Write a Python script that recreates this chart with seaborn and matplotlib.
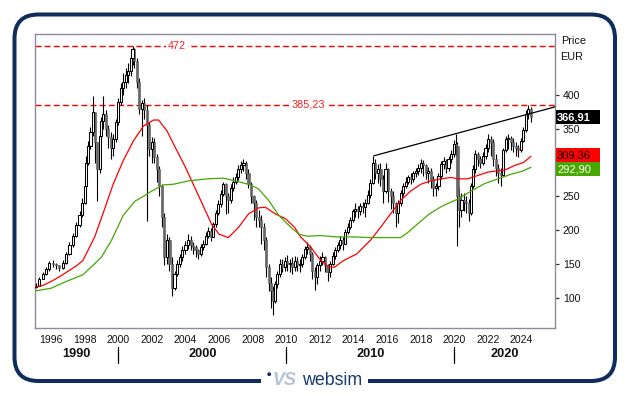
import numpy as np
import pandas as pd
import matplotlib
matplotlib.use("Agg")
import matplotlib.pyplot as plt
import seaborn as sns
from matplotlib.patches import FancyBboxPatch, Rectangle, Circle

# ---------------- data ----------------
t = [1995.10, 1995.30, 1995.50, 1995.70, 1995.90, 1996.10, 1996.30, 1996.50, 1996.70, 1996.90,
     1997.10, 1997.30, 1997.50, 1997.70, 1997.85, 1998.00, 1998.10, 1998.20, 1998.35, 1998.50,
     1998.60, 1998.75, 1998.90, 1999.00, 1999.10, 1999.25, 1999.40, 1999.55, 1999.70, 1999.85,
     2000.00, 2000.15, 2000.30, 2000.45, 2000.60, 2000.75, 2000.85, 2000.95, 2001.10, 2001.25,
     2001.40, 2001.55, 2001.70, 2001.85, 2002.00, 2002.15, 2002.30, 2002.45, 2002.60, 2002.75,
     2002.90, 2003.05, 2003.20, 2003.35, 2003.50, 2003.65, 2003.80, 2004.00, 2004.15, 2004.30,
     2004.45, 2004.60, 2004.75, 2004.90, 2005.05, 2005.20, 2005.35, 2005.50, 2005.65, 2005.80,
     2005.95, 2006.10, 2006.25, 2006.40, 2006.55, 2006.70, 2006.85, 2007.00, 2007.15, 2007.30,
     2007.45, 2007.60, 2007.75, 2007.90, 2008.05, 2008.20, 2008.35, 2008.50, 2008.65, 2008.80,
     2008.95, 2009.10, 2009.20, 2009.30, 2009.45, 2009.60, 2009.75, 2009.90, 2010.05, 2010.20,
     2010.35, 2010.50, 2010.65, 2010.80, 2010.95, 2011.10, 2011.25, 2011.40, 2011.55, 2011.70,
     2011.85, 2012.00, 2012.15, 2012.30, 2012.45, 2012.60, 2012.75, 2012.90, 2013.05, 2013.20,
     2013.35, 2013.50, 2013.65, 2013.80, 2013.95, 2014.10, 2014.25, 2014.40, 2014.55, 2014.70,
     2014.85, 2015.00, 2015.15, 2015.30, 2015.45, 2015.60, 2015.75, 2015.90, 2016.05, 2016.20,
     2016.35, 2016.50, 2016.65, 2016.80, 2016.95, 2017.10, 2017.25, 2017.40, 2017.55, 2017.70,
     2017.85, 2018.00, 2018.15, 2018.30, 2018.45, 2018.60, 2018.75, 2018.90, 2019.05, 2019.20,
     2019.35, 2019.50, 2019.65, 2019.80, 2019.95, 2020.08, 2020.18, 2020.30, 2020.42, 2020.55,
     2020.70, 2020.85, 2020.97, 2021.10, 2021.25, 2021.40, 2021.55, 2021.70, 2021.85, 2022.00,
     2022.15, 2022.30, 2022.45, 2022.60, 2022.75, 2022.90, 2023.05, 2023.20, 2023.35, 2023.50,
     2023.65, 2023.80, 2023.95, 2024.10, 2024.25, 2024.40, 2024.55]

close = [118, 128, 135, 142, 152, 150, 148, 144, 152, 165,
         178, 192, 207, 222, 240, 265, 300, 325, 345, 375,
         330, 290, 340, 362, 372, 350, 338, 322, 335, 360,
         390, 410, 420, 430, 436, 455, 468, 450, 420, 380,
         388, 378, 355, 320, 330, 308, 290, 265, 220, 160,
         185, 150, 115, 135, 150, 160, 170, 178, 185, 178,
         175, 170, 165, 175, 180, 192, 199, 190, 209, 225,
         238, 254, 268, 250, 244, 263, 272, 278, 290, 296,
         300, 285, 268, 250, 240, 220, 215, 205, 185, 145,
         122, 110, 95, 120, 135, 150, 145, 155, 150, 152,
         145, 155, 148, 150, 160, 172, 175, 165, 140, 130,
         148, 155, 160, 148, 138, 150, 162, 170, 178, 185,
         180, 198, 205, 215, 228, 232, 228, 236, 234, 240,
         252, 270, 300, 285, 290, 275, 258, 290, 258, 250,
         240, 225, 240, 255, 265, 272, 278, 275, 284, 288,
         292, 300, 296, 285, 288, 275, 262, 265, 280, 298,
         303, 292, 305, 312, 328, 325, 250, 230, 245, 242,
         240, 225, 265, 290, 312, 305, 300, 310, 322, 335,
         330, 305, 292, 285, 282, 318, 335, 337, 330, 325,
         322, 318, 332, 348, 372, 380, 366.91]

high = [122, 131, 138, 146, 154, 156, 152, 149, 156, 168,
        182, 196, 212, 228, 248, 275, 310, 332, 352, 398,
        372, 330, 350, 368, 398, 378, 356, 345, 342, 365,
        395, 418, 432, 440, 447, 465, 473, 470, 455, 425,
        392, 395, 385, 360, 338, 336, 312, 295, 268, 225,
        195, 190, 160, 140, 156, 165, 176, 184, 195, 192,
        182, 178, 172, 180, 186, 198, 205, 203, 212, 230,
        245, 260, 272, 270, 255, 268, 278, 284, 296, 303,
        306, 302, 290, 272, 252, 245, 230, 222, 210, 190,
        150, 130, 118, 125, 140, 158, 158, 160, 163, 158,
        160, 162, 160, 158, 165, 176, 182, 178, 168, 145,
        152, 162, 168, 162, 150, 155, 168, 175, 182, 192,
        190, 202, 210, 220, 232, 240, 236, 240, 242, 246,
        260, 275, 310, 305, 298, 300, 282, 300, 292, 262,
        258, 242, 245, 260, 270, 278, 282, 285, 288, 292,
        298, 306, 304, 298, 294, 292, 280, 270, 285, 302,
        308, 306, 310, 318, 334, 342, 330, 262, 255, 255,
        250, 246, 270, 296, 318, 316, 310, 315, 328, 342,
        340, 335, 312, 298, 292, 322, 340, 342, 340, 336,
        330, 326, 336, 352, 378, 385, 382]

low = [114, 118, 127, 133, 140, 146, 143, 140, 142, 150,
       163, 175, 190, 205, 220, 238, 262, 296, 320, 340,
       300, 243, 285, 335, 350, 340, 322, 305, 310, 330,
       355, 385, 400, 410, 418, 428, 445, 440, 410, 372,
       340, 365, 214, 310, 300, 300, 272, 250, 205, 148,
       150, 140, 102, 112, 132, 145, 155, 165, 172, 170,
       165, 160, 158, 162, 170, 178, 188, 184, 190, 205,
       222, 235, 250, 224, 225, 240, 258, 268, 274, 285,
       288, 275, 262, 240, 215, 205, 205, 180, 170, 130,
       110, 85, 74, 92, 115, 130, 138, 140, 140, 138,
       135, 140, 140, 138, 145, 158, 165, 155, 128, 112,
       120, 140, 148, 138, 125, 130, 148, 158, 168, 172,
       170, 182, 195, 202, 212, 220, 218, 222, 225, 220,
       238, 248, 268, 275, 270, 265, 240, 255, 242, 232,
       225, 205, 210, 236, 250, 262, 268, 268, 272, 278,
       282, 285, 280, 275, 270, 262, 250, 250, 260, 276,
       290, 285, 288, 300, 308, 310, 177, 205, 220, 228,
       225, 214, 222, 262, 285, 295, 292, 296, 305, 315,
       310, 295, 280, 270, 266, 280, 315, 320, 318, 315,
       310, 308, 315, 330, 345, 365, 360]

first_open = 116
opens = [first_open] + close[:-1]

# moving averages
red_t = [1995.05, 1995.5, 1996.0, 1996.5, 1997.0, 1997.5, 1997.9, 1998.6, 1999.2, 1999.7,
         2000.3, 2000.9, 2001.5, 2002.1, 2002.4, 2002.9, 2003.3, 2004.0, 2005.0, 2005.55,
         2006.0, 2006.55, 2007.15, 2007.75, 2008.35, 2008.75, 2009.35, 2009.95, 2010.5, 2010.85,
         2011.45, 2012.05, 2012.5, 2012.85, 2013.4, 2014.2, 2015.0, 2015.6, 2016.2, 2016.8,
         2017.4, 2018.0, 2018.6, 2019.2, 2019.8, 2020.2, 2020.8, 2021.4, 2022.0, 2022.6,
         2023.0, 2023.6, 2024.1, 2024.35, 2024.55]
red_v = [116, 118, 124, 131, 139, 147, 155, 190, 232, 268,
         303, 332, 354, 363, 363, 347, 327, 293, 239, 209,
         194, 189, 204, 224, 233, 234, 224, 217, 204, 190,
         175, 155, 146, 145, 155, 165, 185, 204, 224, 244,
         258, 268, 273, 276, 278, 276, 276, 281, 286, 288,
         289, 296, 300, 305, 309.36]

green_t = [1995.05, 1996.0, 1996.9, 1997.9, 1998.5, 1999.0, 1999.6, 2000.3, 2001.0, 2001.5,
           2002.0, 2002.7, 2003.3, 2004.2, 2005.35, 2006.25, 2006.95, 2007.75, 2008.35, 2008.95,
           2009.55, 2010.15, 2010.75, 2011.25, 2012.0, 2013.0, 2014.0, 2015.0, 2016.0, 2016.8,
           2017.2, 2017.8, 2018.5, 2019.3, 2020.2, 2021.0, 2021.8, 2022.6, 2023.4, 2024.0,
           2024.55]
green_v = [110, 114, 124, 134, 148, 160, 185, 222, 243, 250,
           258, 267, 268, 273, 276, 277, 273, 268, 261, 244,
           222, 207, 194, 191, 192, 190, 190, 189, 189, 189,
           196, 209, 224, 236, 246, 258, 269, 276, 283, 287,
           292.90]

trend_t = [2015.2, 2026.0]
trend_v = [310, 382.6]

level_values = [472, 385.23]
level_labels = ["472", "385,23"]
level_label_x = [2003.5, 2011.3]

year_ticks = list(range(1996, 2027, 2))
year_labels = [str(y) if y <= 2024 else "" for y in year_ticks]
decades = [1990, 2000, 2010, 2020]
decade_bounds = [1995.05, 2000.0, 2010.0, 2020.0, 2026.0]
price_ticks = [100, 150, 200, 250, 300, 350, 400]
price_labels = ["100", "150", "200", "250", "", "350", "400"]

last_price = 366.91
last_red = 309.36
last_green = 292.90

# ---------------- style ----------------
sns.set_style("white")
plt.rcParams["font.family"] = ["Liberation Sans", "DejaVu Sans"]

W, H = 629, 395
fig = plt.figure(figsize=(W / 100, H / 100), dpi=100)
fig.patch.set_facecolor("white")

L, R, T, B = 35, 555.3, 34, 328
ax = fig.add_axes([L / W, (H - B) / H, (R - L) / W, (B - T) / H])
ax.set_xlim(1995.05, 2026.0)
ax.set_ylim(55.2, 490.3)
ax.set_facecolor("white")

spine_col = "#8c8c9a"
for s in ax.spines.values():
    s.set_color(spine_col)
    s.set_linewidth(1.0)

# candles
df = pd.DataFrame({"t": t, "o": opens, "h": high, "l": low, "c": close})
up = df[df.c >= df.o]
dn = df[df.c < df.o]
ax.vlines(df.t, df.l, df.h, color="black", lw=0.8, zorder=3)
ax.bar(dn.t, (dn.o - dn.c), bottom=dn.c, width=0.125, color="#676767",
       edgecolor="#5a5a5a", linewidth=0.4, zorder=4)
ax.bar(up.t, (up.c - up.o).clip(lower=0.8), bottom=up.o, width=0.125, color="white",
       edgecolor="black", linewidth=0.75, zorder=4)

# moving averages and trend line
sns.lineplot(x=red_t, y=red_v, ax=ax, color="#ff0000", lw=0.9, zorder=5)
sns.lineplot(x=green_t, y=green_v, ax=ax, color="#44a800", lw=0.9, zorder=5)
sns.lineplot(x=trend_t, y=trend_v, ax=ax, color="black", lw=0.9, zorder=5)

# horizontal level lines
for v, lab, lx in zip(level_values, level_labels, level_label_x):
    ax.axhline(v, color="#ff0000", lw=1.0, ls=(0, (4.3, 2.3)), zorder=2)
    ax.text(lx, v, lab, color="#ff2020", fontsize=7.8, ha="center", va="center",
            bbox=dict(boxstyle="square,pad=0.15", fc="white", ec="none"), zorder=6)

# axes ticks
ax.yaxis.tick_right()
ax.set_yticks(price_ticks)
ax.set_yticklabels(price_labels)
ax.set_xticks(year_ticks)
ax.set_xticklabels(year_labels)
ax.tick_params(axis="both", which="both", direction="out", length=3, width=0.9,
               color="#333333", labelsize=7.6, labelcolor="#111111")
ax.tick_params(axis="y", pad=2.5)
ax.tick_params(axis="x", pad=2.0)
ax.tick_params(axis="y", left=False, right=True)
ax.set_xlabel("")
ax.set_ylabel("")
ax.grid(False)

# decade separators and labels
xt = ax.get_xaxis_transform()
sep_top = (B - 347) / (B - T)
sep_bot = (B - 363) / (B - T)
for d in decade_bounds[1:-1]:
    ax.plot([d, d], [sep_top, sep_bot], transform=xt, color="black", lw=0.9, clip_on=False)
for i, d in enumerate(decades):
    cx = (decade_bounds[i] + decade_bounds[i + 1]) / 2
    ax.text(cx, (B - 354) / (B - T), str(d), transform=xt, ha="center", va="center",
            fontsize=9.2, fontweight="bold", color="#111111")

# right side labels
ax.text(1.0 + 6 / (R - L), (B - 41) / (B - T), "Price", transform=ax.transAxes,
        fontsize=7.8, ha="left", va="center", color="#111111")
ax.text(1.0 + 5 / (R - L), (B - 57) / (B - T), "EUR", transform=ax.transAxes,
        fontsize=7.8, ha="left", va="center", color="#111111")

# ---------------- overlay in pixel coordinates ----------------
ov = fig.add_axes([0, 0, 1, 1], zorder=10)
ov.set_xlim(0, W)
ov.set_ylim(H, 0)
ov.axis("off")
ov.patch.set_alpha(0)

def ypix(v):
    _, dy = ax.transData.transform((2000, v))
    return H - dy

navy = "#0e2d5c"
frame = FancyBboxPatch((14.5, 14.5), 600.5, 366.5,
                       boxstyle="round,pad=0,rounding_size=24",
                       lw=4 * 0.72, ec=navy, fc="none")
ov.add_patch(frame)
ov.add_patch(Rectangle((260.5, 375), 107, 12, fc="white", ec="none", zorder=3))

# value boxes (red/green pushed apart so they do not overlap, as in the reference)
red_cy = ypix(last_red) - 1.0
boxes = [(last_price, ypix(last_price) - 0.5, "black", "white"),
         (last_red, red_cy, "#ff0000", "black"),
         (last_green, red_cy + 14.0, "#48a800", "white")]
for val, cy, fc, tc in boxes:
    ov.add_patch(Rectangle((555.7, cy - 6.9), 44.5, 13.8, fc=fc, ec="none", zorder=4))
    ov.text(557, cy + 0.3, f"{val:.2f}".replace(".", ","), color=tc, fontsize=8.0,
            fontweight="bold" if fc == "black" else "normal",
            ha="left", va="center", zorder=5)

# logo
ov.add_patch(Circle((269.2, 374.2), 1.9, fc=navy, ec="none", zorder=5))
ov.text(272, 385, "VS", fontsize=13, fontstyle="italic", fontweight="bold",
        color="#b4c3d4", ha="left", va="baseline", zorder=5)
ov.text(302, 385, "websim", fontsize=12.8, color="#163a6e", ha="left",
        va="baseline", zorder=5)

fig.savefig("out.png", dpi=100, facecolor="white")
